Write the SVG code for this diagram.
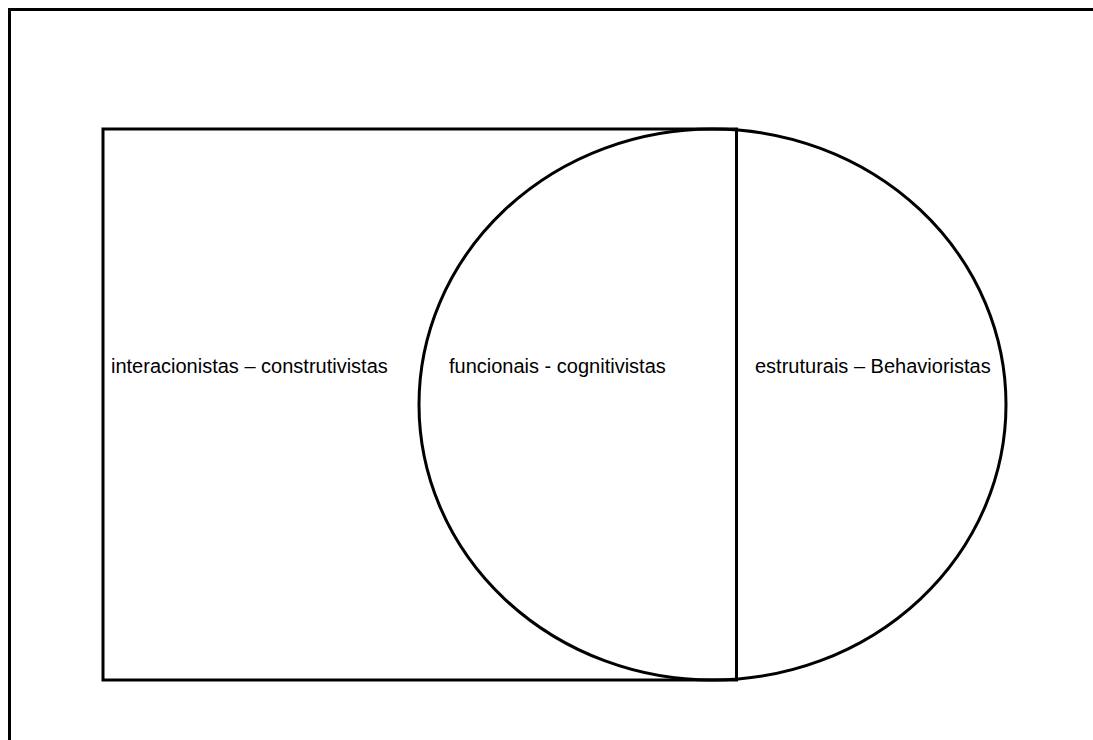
<svg xmlns="http://www.w3.org/2000/svg" width="1093" height="740" viewBox="0 0 1093 740">
<style>
.s{fill:none;stroke:#000;stroke-width:3}
.t{font-family:"Liberation Sans",Arial,sans-serif;font-size:20px;fill:#000}
</style>
<rect width="1093" height="740" fill="#fff"/>
<g id="frame"><rect class="s" x="9.5" y="9.5" width="1100" height="760"/></g>
<g id="rect-node"><rect class="s" x="103" y="129" width="633.5" height="551"/></g>
<g id="ellipse-node"><ellipse class="s" cx="712.5" cy="404.5" rx="293.5" ry="275.5"/></g>
<g id="divider"><line class="s" x1="736.5" y1="129" x2="736.5" y2="680"/></g>
<g id="labels">
<text class="t" x="111" y="373">interacionistas – construtivistas</text>
<text class="t" x="449" y="373">funcionais - cognitivistas</text>
<text class="t" x="755" y="373">estruturais – Behavioristas</text>
</g>
<g id="connectors"></g>
</svg>
